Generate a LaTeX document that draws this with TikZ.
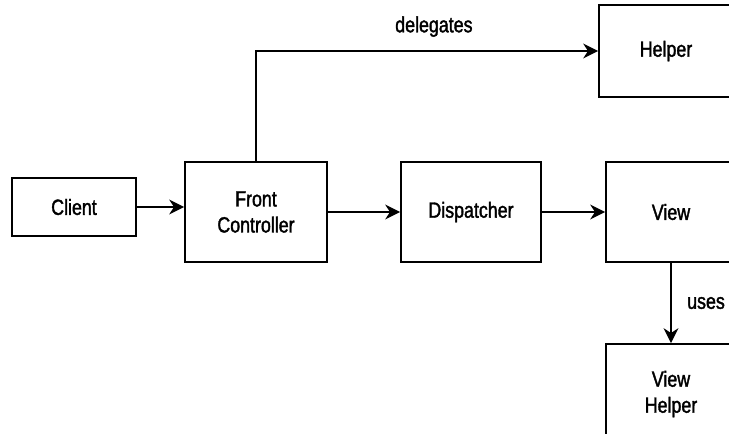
\documentclass[tikz,border=0pt]{standalone}
\usepackage{fontspec}
\setmainfont{Liberation Sans}[FakeStretch=0.81, FakeBold=1.6]
\usetikzlibrary{arrows.meta, positioning}

\begin{document}
\begin{tikzpicture}[
    x=1pt, y=-1pt,
    >={Stealth[length=15pt, width=15pt]},
    line width=1.7pt,
    box/.style={rectangle, draw, align=center, minimum width=140pt, minimum height=100pt, inner sep=0pt},
    every node/.style={font=\fontsize{22}{26}\selectfont}
]
\useasboundingbox (0,0) rectangle (729,434);

\node[box, minimum width=124pt, minimum height=58pt] (client) at (74,207) {Client};
\node[box, minimum width=142pt] (front) at (256,212) {Front\\Controller};
\node[box] (disp) at (471,212) {Dispatcher};
\node[box, minimum width=130pt] (view) at (671,212) {View};
\node[box, minimum width=134pt, minimum height=92pt] (helper) at (666,51) {Helper};
\node[box, minimum width=130pt] (vhelper) at (671,394) {View\\Helper};

\draw[->] (client.east) -- (client.east -| front.west);
\draw[->] (front) -- (disp);
\draw[->] (disp) -- (view);
\draw[->] (front.north) |- node[pos=0.76, above=10pt] {delegates} (helper.west);
\draw[->] (view.south) -- node[right=12pt] {uses} (vhelper.north);

\end{tikzpicture}
\end{document}
